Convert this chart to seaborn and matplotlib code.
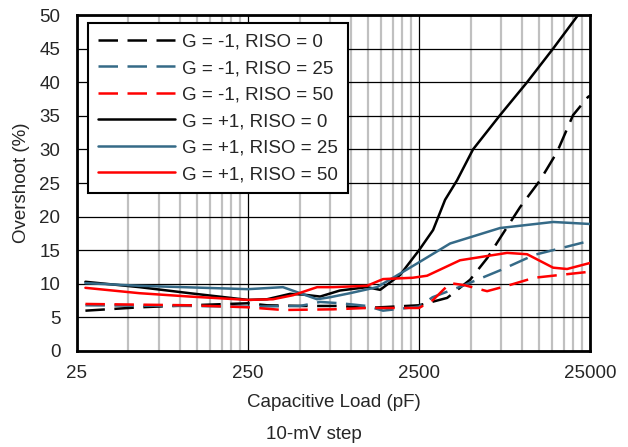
import numpy as np
import pandas as pd
import matplotlib
matplotlib.use("Agg")
import matplotlib.pyplot as plt
from matplotlib.ticker import FixedLocator, NullFormatter
import seaborn as sns

# capacitive load (pF) and overshoot (%)
load_gm1_r0 = [28, 58, 114, 250, 323, 524, 862, 1240, 2500, 3650, 4970, 6250, 7750, 9740, 12750, 16030, 19880, 24300, 25000]
os_gm1_r0 = [6.0, 6.5, 6.8, 7.1, 6.8, 6.7, 6.7, 6.4, 6.8, 7.9, 10.6, 13.8, 17.5, 21.4, 25.4, 29.6, 35.1, 37.8, 38.0]

load_gm1_r25 = [28, 114, 250, 504, 660, 870, 1240, 1540, 2500, 3000, 4600, 7440, 11800, 25000]
os_gm1_r25 = [6.8, 6.7, 6.6, 6.7, 7.3, 7.1, 6.7, 6.0, 6.6, 8.0, 9.8, 12.0, 14.3, 16.4]

load_gm1_r50 = [28, 114, 250, 400, 786, 1240, 2500, 3020, 3800, 4600, 6250, 8180, 11800, 25000]
os_gm1_r50 = [7.0, 6.8, 6.5, 6.1, 6.2, 6.4, 6.4, 7.6, 10.1, 9.8, 8.9, 9.7, 10.9, 11.8]

load_gp1_r0 = [28, 58, 114, 250, 323, 440, 524, 660, 862, 1240, 1480, 1935, 2500, 3020, 3550, 4170, 5170, 7440, 10710, 15200, 21280, 25000]
os_gp1_r0 = [10.3, 9.5, 8.6, 7.6, 7.7, 8.5, 8.4, 8.1, 9.0, 9.5, 9.1, 11.3, 15.0, 18.0, 22.5, 25.4, 30.0, 35.1, 40.0, 45.0, 50.0, 51.5]

load_gp1_r25 = [28, 58, 250, 400, 504, 634, 755, 986, 1420, 1762, 2500, 3800, 7440, 15200, 25000]
os_gp1_r25 = [10.1, 9.7, 9.2, 9.5, 8.6, 7.7, 8.0, 8.6, 9.5, 10.9, 13.2, 16.0, 18.3, 19.2, 18.9]

load_gp1_r50 = [28, 58, 114, 250, 350, 458, 634, 786, 1240, 1540, 2300, 2785, 4340, 8180, 10710, 15200, 18340, 25000]
os_gp1_r50 = [9.4, 8.6, 8.1, 7.6, 7.7, 8.3, 9.5, 9.5, 9.7, 10.7, 10.9, 11.2, 13.5, 14.6, 14.4, 12.4, 12.2, 13.1]

blue = "#356a87"
series = [
    ("G = -1, RISO = 0", load_gm1_r0, os_gm1_r0, "black", True),
    ("G = -1, RISO = 25", load_gm1_r25, os_gm1_r25, blue, True),
    ("G = -1, RISO = 50", load_gm1_r50, os_gm1_r50, "red", True),
    ("G = +1, RISO = 0", load_gp1_r0, os_gp1_r0, "black", False),
    ("G = +1, RISO = 25", load_gp1_r25, os_gp1_r25, blue, False),
    ("G = +1, RISO = 50", load_gp1_r50, os_gp1_r50, "red", False),
]

sns.set_style("white")
plt.rcParams['font.family'] = ['Liberation Sans', 'DejaVu Sans']
fs = 13.5

fig = plt.figure(figsize=(6.28, 4.47), dpi=100)
ax = fig.add_axes([0.1226, 0.2148, 0.817, 0.7516])

for label, xs, ys, col, dashed in series:
    df = pd.DataFrame({"load": xs, "overshoot": ys})
    sns.lineplot(data=df, x="load", y="overshoot", ax=ax, color=col, lw=1.8,
                 sort=False, label=label, zorder=3)
    if dashed:
        ax.lines[-1].set_dashes((7.8, 3.8))

ax.set_xscale("log")
ax.set_xlim(25, 25000)
ax.set_ylim(0, 50)

major = [25, 250, 2500, 25000]
minor = [m * k for m in [25, 250, 2500] for k in range(2, 10)]
ax.xaxis.set_major_locator(FixedLocator(major))
ax.xaxis.set_minor_locator(FixedLocator(minor))
ax.xaxis.set_minor_formatter(NullFormatter())
ax.set_xticklabels([str(v) for v in major])
ax.set_yticks(range(0, 55, 5))

ax.grid(which="minor", axis="x", color="#c0c0c0", lw=1.6, zorder=0)
ax.grid(which="major", axis="x", color="black", lw=0.9, zorder=1)
ax.grid(which="major", axis="y", color="black", lw=0.9, zorder=1)
ax.set_axisbelow(True)

ax.tick_params(axis="both", which="both", length=0, labelsize=fs)
ax.tick_params(axis="x", pad=10)
ax.tick_params(axis="y", pad=12)
for s in ax.spines.values():
    s.set_visible(True)
    s.set_color("black")
    s.set_linewidth(2)

ax.set_xlabel("Capacitive Load (pF)", fontsize=fs, labelpad=9)
ax.set_ylabel("Overshoot (%)", fontsize=fs, labelpad=7)

leg = ax.legend(loc="upper left", bbox_to_anchor=(0.0214, 0.976), fontsize=fs,
                frameon=True, fancybox=False, framealpha=1, edgecolor="black",
                handlelength=4.1, handletextpad=0.35, labelspacing=0.5,
                borderpad=0.55, borderaxespad=0)
leg.get_frame().set_linewidth(1.5)

fig.text(0.5, 0.027, "10-mV step", ha="center", va="center", fontsize=fs)

fig.savefig("out.png", dpi=100)
